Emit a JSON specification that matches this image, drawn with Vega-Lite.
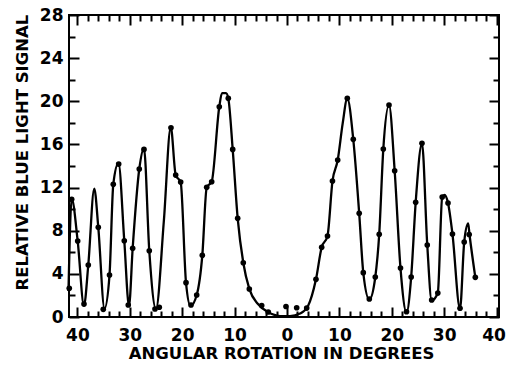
{
  "$schema": "https://vega.github.io/schema/vega-lite/v6.json",
  "width": 430,
  "height": 302,
  "autosize": {"type": "none"},
  "padding": {"left": 69, "top": 15, "right": 8, "bottom": 53},
  "background": "white",
  "config": {
    "view": {"stroke": "black", "strokeWidth": 2},
    "axis": {
      "domain": false,
      "grid": false,
      "labelFont": "DejaVu Sans",
      "labelFontWeight": "bold",
      "labelFontSize": 17,
      "labelColor": "black",
      "titleFont": "DejaVu Sans",
      "titleFontWeight": "bold",
      "titleFontSize": 16.5,
      "titleColor": "black",
      "tickColor": "black",
      "tickWidth": 2
    }
  },
  "datasets": {
    "curve": [
      {"angle": -41.70, "signal": 2.41}, {"angle": -41.09, "signal": 10.98}, {"angle": -39.94, "signal": 7.04},
      {"angle": -38.74, "signal": 1.07}, {"angle": -37.92, "signal": 4.82}, {"angle": -36.78, "signal": 11.91},
      {"angle": -36.01, "signal": 8.31}, {"angle": -34.83, "signal": 0.79}, {"angle": -33.87, "signal": 3.89},
      {"angle": -33.15, "signal": 12.30}, {"angle": -32.16, "signal": 14.27}, {"angle": -31.05, "signal": 7.07},
      {"angle": -30.15, "signal": 1.02}, {"angle": -29.45, "signal": 6.37}, {"angle": -28.19, "signal": 13.72},
      {"angle": -27.29, "signal": 15.64}, {"angle": -26.28, "signal": 6.14}, {"angle": -25.00, "signal": 0.74},
      {"angle": -23.50, "signal": 8.90}, {"angle": -22.18, "signal": 17.61}, {"angle": -21.24, "signal": 13.16},
      {"angle": -20.29, "signal": 12.51}, {"angle": -19.27, "signal": 3.18}, {"angle": -18.41, "signal": 1.02},
      {"angle": -17.23, "signal": 2.04}, {"angle": -16.16, "signal": 5.72}, {"angle": -15.32, "signal": 12.02},
      {"angle": -14.37, "signal": 12.54}, {"angle": -12.92, "signal": 19.49}, {"angle": -12.40, "signal": 20.76},
      {"angle": -11.64, "signal": 20.76}, {"angle": -11.20, "signal": 20.27}, {"angle": -10.36, "signal": 15.54},
      {"angle": -9.41, "signal": 9.15}, {"angle": -8.34, "signal": 5.03}, {"angle": -7.19, "signal": 2.60},
      {"angle": -5.53, "signal": 1.20}, {"angle": -3.63, "signal": 0.46}, {"angle": -1.34, "signal": 0.09},
      {"angle": 0.57, "signal": 0.09}, {"angle": 2.48, "signal": 0.32}, {"angle": 4.01, "signal": 1.02},
      {"angle": 5.53, "signal": 3.49}, {"angle": 6.62, "signal": 6.46}, {"angle": 7.73, "signal": 7.51},
      {"angle": 8.68, "signal": 12.60}, {"angle": 9.68, "signal": 14.55}, {"angle": 10.63, "signal": 17.95},
      {"angle": 11.51, "signal": 20.27}, {"angle": 12.65, "signal": 16.47}, {"angle": 13.78, "signal": 9.61},
      {"angle": 14.56, "signal": 4.11}, {"angle": 15.71, "signal": 1.62}, {"angle": 16.85, "signal": 3.71},
      {"angle": 17.60, "signal": 7.67}, {"angle": 18.38, "signal": 15.57}, {"angle": 19.47, "signal": 19.65},
      {"angle": 20.55, "signal": 13.56}, {"angle": 21.66, "signal": 4.54}, {"angle": 22.81, "signal": 0.42},
      {"angle": 23.70, "signal": 3.71}, {"angle": 24.56, "signal": 10.63}, {"angle": 25.76, "signal": 16.10},
      {"angle": 26.77, "signal": 6.67}, {"angle": 27.61, "signal": 1.53}, {"angle": 28.78, "signal": 2.22},
      {"angle": 29.62, "signal": 11.12}, {"angle": 30.06, "signal": 11.31}, {"angle": 30.73, "signal": 10.57},
      {"angle": 31.58, "signal": 7.69}, {"angle": 33.02, "signal": 0.74}, {"angle": 33.82, "signal": 6.95},
      {"angle": 34.58, "signal": 8.67}, {"angle": 34.83, "signal": 7.65}, {"angle": 35.94, "signal": 3.68}
    ],
    "dots": [
      {"angle": -41.55, "signal": 2.66}, {"angle": -41.09, "signal": 10.91}, {"angle": -39.94, "signal": 7.04},
      {"angle": -38.74, "signal": 1.20}, {"angle": -37.92, "signal": 4.82}, {"angle": -36.01, "signal": 8.31},
      {"angle": -35.06, "signal": 0.71}, {"angle": -33.87, "signal": 3.89}, {"angle": -33.15, "signal": 12.30},
      {"angle": -32.12, "signal": 14.18}, {"angle": -31.05, "signal": 7.07}, {"angle": -30.29, "signal": 1.11},
      {"angle": -29.45, "signal": 6.37}, {"angle": -28.19, "signal": 13.72}, {"angle": -27.29, "signal": 15.54},
      {"angle": -26.28, "signal": 6.14}, {"angle": -25.19, "signal": 0.74}, {"angle": -24.37, "signal": 0.90},
      {"angle": -22.14, "signal": 17.54}, {"angle": -21.24, "signal": 13.16}, {"angle": -20.29, "signal": 12.51},
      {"angle": -19.27, "signal": 3.18}, {"angle": -18.32, "signal": 1.11}, {"angle": -17.23, "signal": 2.04},
      {"angle": -16.16, "signal": 5.72}, {"angle": -15.32, "signal": 12.02}, {"angle": -14.37, "signal": 12.54},
      {"angle": -12.92, "signal": 19.49}, {"angle": -11.20, "signal": 20.27}, {"angle": -10.36, "signal": 15.54},
      {"angle": -9.41, "signal": 9.15}, {"angle": -8.34, "signal": 5.03}, {"angle": -7.19, "signal": 2.60},
      {"angle": -4.83, "signal": 1.07}, {"angle": -3.57, "signal": 0.46}, {"angle": -0.19, "signal": 0.97},
      {"angle": 1.85, "signal": 0.86}, {"angle": 3.76, "signal": 0.83}, {"angle": 5.53, "signal": 3.49},
      {"angle": 6.62, "signal": 6.46}, {"angle": 7.73, "signal": 7.51}, {"angle": 8.68, "signal": 12.60},
      {"angle": 9.68, "signal": 14.55}, {"angle": 11.51, "signal": 20.27}, {"angle": 12.65, "signal": 16.47},
      {"angle": 13.78, "signal": 9.61}, {"angle": 14.56, "signal": 4.11}, {"angle": 15.71, "signal": 1.67},
      {"angle": 16.85, "signal": 3.71}, {"angle": 17.60, "signal": 7.67}, {"angle": 18.38, "signal": 15.57},
      {"angle": 19.47, "signal": 19.65}, {"angle": 20.55, "signal": 13.56}, {"angle": 21.66, "signal": 4.54},
      {"angle": 22.81, "signal": 0.49}, {"angle": 23.70, "signal": 3.71}, {"angle": 24.56, "signal": 10.63},
      {"angle": 25.76, "signal": 16.10}, {"angle": 26.77, "signal": 6.67}, {"angle": 27.61, "signal": 1.58},
      {"angle": 28.78, "signal": 2.22}, {"angle": 29.62, "signal": 11.12}, {"angle": 30.73, "signal": 10.57},
      {"angle": 31.58, "signal": 7.69}, {"angle": 33.02, "signal": 0.81}, {"angle": 33.82, "signal": 6.95},
      {"angle": 34.77, "signal": 7.65}, {"angle": 35.94, "signal": 3.68}
    ]
  },
  "resolve": {"axis": {"x": "independent", "y": "independent"}},
  "layer": [
    {
      "data": {"name": "curve"},
      "mark": {"type": "line", "interpolate": "monotone", "color": "black", "strokeWidth": 2.3},
      "encoding": {
        "x": {
          "field": "angle", "type": "quantitative",
          "scale": {"domain": [-41.6, 40.46], "nice": false, "zero": false},
          "axis": {
            "orient": "bottom",
            "values": [-40,-38,-36,-34,-32,-30,-28,-26,-24,-22,-20,-18,-16,-14,-12,-10,-8,-6,-4,-2,0,2,4,6,8,10,12,14,16,18,20,22,24,26,28,30,32,34,36,38,40],
            "labelExpr": "datum.value % 10 === 0 ? abs(datum.value) : ''",
            "tickSize": {"condition": {"test": "datum.value % 10 === 0", "value": -10}, "value": -6},
            "labelPadding": 20,
            "labelOffset": {"condition": {"test": "datum.value === 40", "value": -3}, "value": 0},
            "labelFlush": false,
            "labelOverlap": false,
            "title": "ANGULAR ROTATION IN DEGREES",
            "titleBaseline": "alphabetic",
            "titleAlign": "center",
            "titleX": 212,
            "titleY": 41
          }
        },
        "y": {
          "field": "signal", "type": "quantitative",
          "scale": {"domain": [0, 28], "nice": false, "zero": true},
          "axis": {
            "orient": "left",
            "values": [0,2,4,6,8,10,12,14,16,18,20,22,24,26,28],
            "labelExpr": "datum.value % 4 === 0 ? datum.value : ''",
            "tickSize": {"condition": {"test": "datum.value % 4 === 0", "value": -10}, "value": -6},
            "labelPadding": 16,
            "labelFlush": false,
            "labelOverlap": false,
            "title": "RELATIVE BLUE LIGHT SIGNAL",
            "titleBaseline": "alphabetic",
            "titleAlign": "center",
            "titleAngle": -90,
            "titleX": -42,
            "titleY": 137
          }
        }
      }
    },
    {
      "data": {"name": "dots"},
      "mark": {"type": "point", "filled": true, "color": "black", "opacity": 1, "size": 32},
      "encoding": {
        "x": {
          "field": "angle", "type": "quantitative",
          "scale": {"domain": [-41.6, 40.46], "nice": false, "zero": false},
          "axis": {
            "orient": "top",
            "values": [-40,-38,-36,-34,-32,-30,-28,-26,-24,-22,-20,-18,-16,-14,-12,-10,-8,-6,-4,-2,0,2,4,6,8,10,12,14,16,18,20,22,24,26,28,30,32,34,36,38,40],
            "labels": false,
            "tickSize": {"condition": {"test": "datum.value % 10 === 0", "value": -10}, "value": -6},
            "title": null
          }
        },
        "y": {
          "field": "signal", "type": "quantitative",
          "scale": {"domain": [0, 28], "nice": false, "zero": true},
          "axis": {
            "orient": "right",
            "values": [0,2,4,6,8,10,12,14,16,18,20,22,24,26,28],
            "labels": false,
            "tickSize": {"condition": {"test": "datum.value % 4 === 0", "value": -10}, "value": -6},
            "title": null
          }
        }
      }
    }
  ]
}
